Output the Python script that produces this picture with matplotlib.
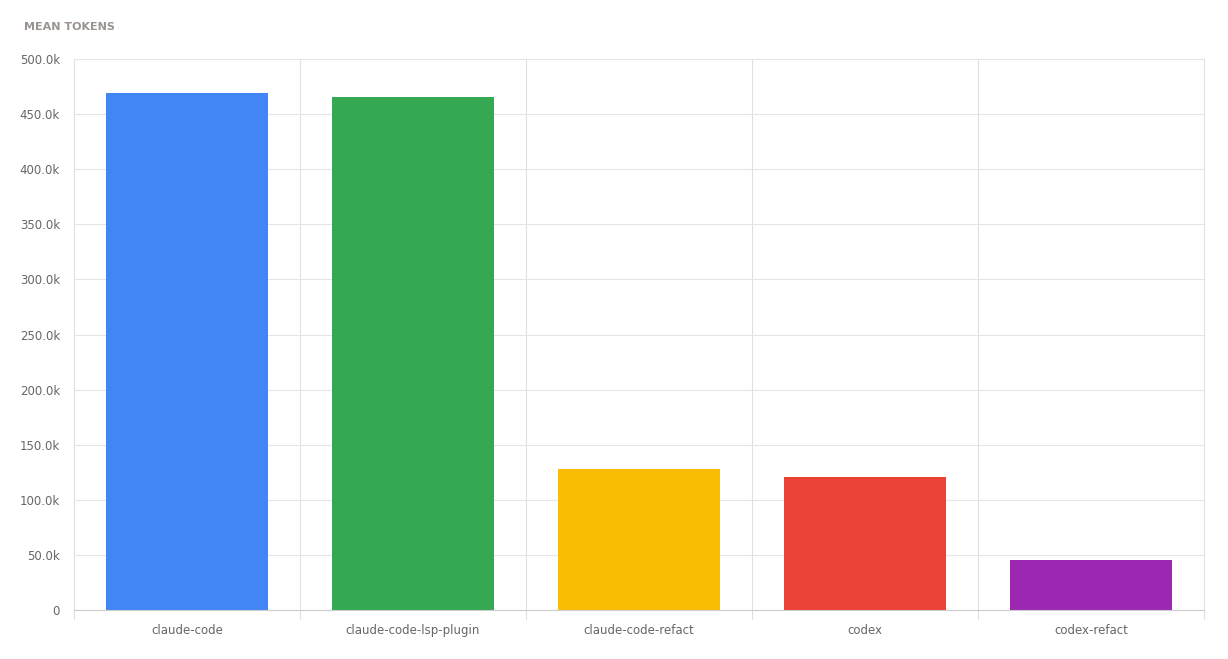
import matplotlib.pyplot as plt
import numpy as np

labels = ['claude-code', 'claude-code-lsp-plugin', 'claude-code-refact', 'codex', 'codex-refact']
mean_tokens = [469200, 465600, 128000, 120700, 45400]
colors = ['#4285f4', '#34a853', '#fbbc04', '#ea4335', '#9c27b0']
yticks = [0, 50000, 100000, 150000, 200000, 250000, 300000, 350000, 400000, 450000, 500000]

fig = plt.figure(figsize=(12.28, 6.59), dpi=100)
ax = fig.add_axes([74/1228, 49/659, 1130/1228, 551/659])

x = np.arange(len(labels))
ax.bar(x, mean_tokens, width=0.72, color=colors, zorder=2)
ax.set_xlim(-0.5, len(labels) - 0.5)
ax.set_ylim(0, 500000)
ax.set_yticks(yticks)
ax.set_yticklabels(['0'] + ['%.1fk' % (v / 1000) for v in yticks[1:]])
ax.set_xticks(x)
ax.set_xticklabels(labels)

# vertical grid lines sit between categories
for b in np.arange(-0.5, len(labels), 1.0):
    ax.axvline(b, color='#e0e0e0', lw=0.8, zorder=1, ymin=-0.016, clip_on=False)
ax.grid(axis='y', color='#e5e5e5', lw=0.8, zorder=1)
for s in ['top', 'right', 'left']:
    ax.spines[s].set_visible(False)
ax.spines['bottom'].set_color('#cccccc')
ax.tick_params(axis='both', length=0, labelsize=8.5, labelcolor='#666666')
ax.tick_params(axis='x', pad=10)
ax.tick_params(axis='y', pad=10)

fig.text(24/1228, 1 - 27/659, 'MEAN TOKENS', fontsize=8, fontweight='bold',
         color='#9a9390', va='center', ha='left')

fig.savefig('out.png', dpi=100, facecolor='white')
